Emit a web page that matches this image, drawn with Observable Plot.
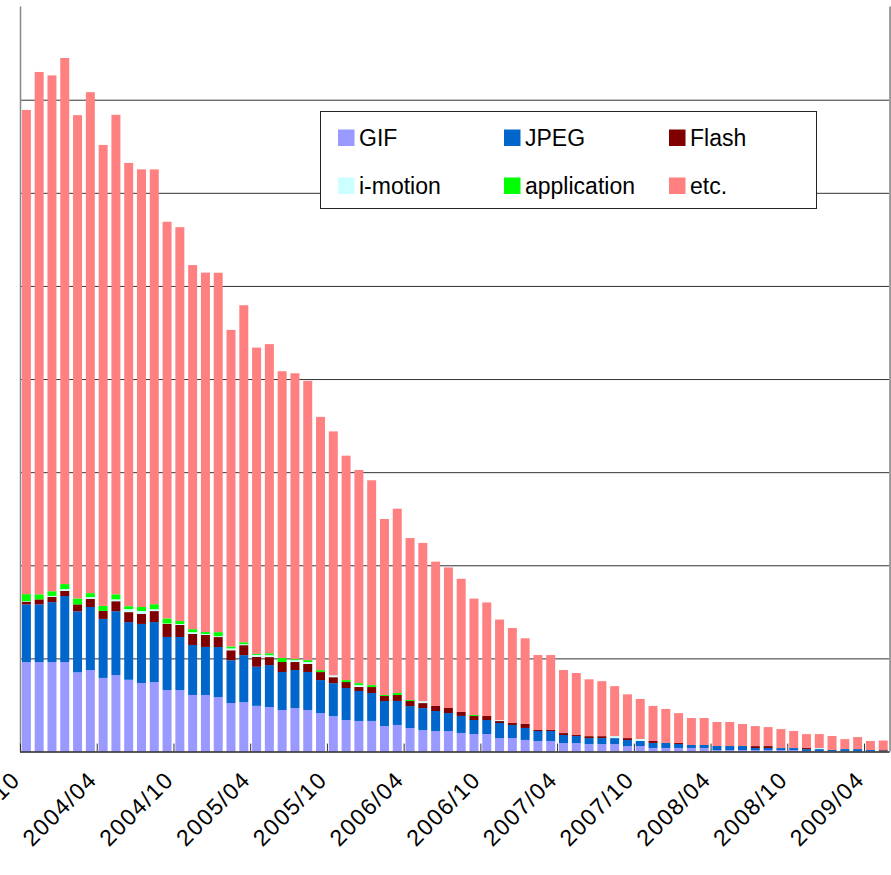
<!DOCTYPE html>
<html>
<head>
<meta charset="utf-8">
<script src="https://cdn.jsdelivr.net/npm/d3@7"></script>
<script src="https://cdn.jsdelivr.net/npm/@observablehq/plot@0.6"></script>
<style>
  html, body { margin: 0; padding: 0; background: #fff; }
  #chart svg { display: block; overflow: visible; }
</style>
</head>
<body>
<div id="chart"></div>
<script>
// ---- categories (monthly, 2003/10 .. 2009/05) ----
const months = [
  "2003/10","2003/11","2003/12",
  "2004/01","2004/02","2004/03","2004/04","2004/05","2004/06","2004/07","2004/08","2004/09","2004/10","2004/11","2004/12",
  "2005/01","2005/02","2005/03","2005/04","2005/05","2005/06","2005/07","2005/08","2005/09","2005/10","2005/11","2005/12",
  "2006/01","2006/02","2006/03","2006/04","2006/05","2006/06","2006/07","2006/08","2006/09","2006/10","2006/11","2006/12",
  "2007/01","2007/02","2007/03","2007/04","2007/05","2007/06","2007/07","2007/08","2007/09","2007/10","2007/11","2007/12",
  "2008/01","2008/02","2008/03","2008/04","2008/05","2008/06","2008/07","2008/08","2008/09","2008/10","2008/11","2008/12",
  "2009/01","2009/02","2009/03","2009/04","2009/05"
];
const tickLabels = ["2003/10","2004/04","2004/10","2005/04","2005/10","2006/04","2006/10","2007/04","2007/10","2008/04","2008/10","2009/04"];
const yGrid = [100, 200, 300, 400, 500, 600, 700];

// ---- series (stack order bottom -> top) ----
const seriesNames = ["GIF", "JPEG", "Flash", "i-motion", "application", "etc."];
const seriesColors = ["#9999FF", "#0066CC", "#800000", "#CCFFFF", "#00FF00", "#FF8080"];

const gif = [96,96,96,96,85,87.5,79,82,77,73.6,74.6,66,66,60.7,60.7,58.5,52,53,49,47.8,
  44.6,46.7,44.6,41.3,38,33.8,32.8,32.8,27.4,28.5,25.2,23,22,22,19.9,18.8,18.8,14.5,14.5,12.4,
  11.3,11.3,9.1,9.1,8,8,8,5.9,5.9,3.8,3.8,3.8,3.8,3.8,1.6,1.6,1.6,1.6,1.6,1.6,
  1.6,0.5,0.5,0.5,0.5,0.5,0.5,0.5];
const jpeg = [62,62,64.4,71,65.5,67.7,63.4,68.7,62,63.4,64.4,57,57,53.7,51.6,53.7,46,50.5,42,45,
  40.8,40.8,40.8,35.4,35.4,34.4,32.2,30,26.8,25.8,23.6,23.6,21.5,19.3,18.3,15,15,16.1,14,12.9,
  10.7,10.7,8.6,7.5,6.4,6.4,6.4,6.4,5.4,5.4,5.4,4.3,3.2,3.2,4.3,4.3,4.3,2.1,2.1,2.1,
  2.1,2.1,2.1,1.1,2.1,2.1,1.1,0.5];
const flash = [3,5.4,5.7,5.4,7.5,8.6,8.6,10.7,10.7,10.7,11.8,14,12.9,11.8,12.9,10.7,10.7,10.7,10.7,8.6,
  10.7,8.6,8.6,8.6,6.4,6.4,4.3,6.4,5.4,6.4,5.4,5.4,5.4,5.4,4.3,4.3,4.3,2.1,2.1,4.3,
  1.1,1.1,2.1,1.1,2.1,2.1,0,2.1,0,2.1,0,1.1,0,0,0,0,0,2.1,2.1,0,
  0,1.1,0,0,0,0,0,1.1];
const imotion = [0.5,0,1,2,0,2,0,2,3.2,3.2,2,0.5,1,2,1,1,2,1,2,2,
  0,2,2,0,2,0,2,0,0,0,0,2,0,0,0,0,0,1,0,0,
  0,0,0,0,0,0,2.1,0,2.1,0,0,0,0,0,0,0,0,0,0,0,
  0,0,1.1,0,0,0,0,0];
const application = [7.5,5.4,5,5.4,6.4,4.3,5.4,5.4,3.2,4.3,5.4,5.4,3.2,3.2,2.1,4.3,2.1,2.1,1.1,2.1,
  4.3,1.1,2.1,2.1,0,2.1,2.1,2.1,1.1,2.1,1.1,0,0,0,0,1.1,0,0,0,0,
  0,0,0,0,0,0,0,0,0,0,0,0,0,0,0,0,0,0,0,0,
  0,0,0,0,0,0,0,0];
const etc = [520,561,554,565,519,538,495,515,476,470,467,426,423,391,386,386,340,362,329,332,
  308,307,300,272,262,241,229,220,189,198,174,170,155,151,143,125,122,108,102,92,
  80.5,80.5,67.7,66.6,61,59,53.7,47,43,37.6,36.5,32,29,29,25.8,25.8,23.6,21.5,20.4,20.4,
  18.3,15,15,15,10.7,12.9,9.7,9.7];

const seriesValues = [gif, jpeg, flash, imotion, application, etc];

// long table for the library
const rows = [];
months.forEach((m, i) => {
  seriesValues.forEach((arr, s) => rows.push({i, month: m, series: seriesNames[s], value: arr[i]}));
});
const tickIdx = tickLabels.map(l => months.indexOf(l));

const FONT = "'Liberation Sans', Arial, sans-serif";

const chart = Plot.plot({
  width: 891,
  height: 875,
  marginLeft: 20,
  marginRight: 1.4,
  marginTop: 6.6,
  marginBottom: 123.5,
  x: {type: "linear", domain: [0, months.length], axis: null},
  y: {domain: [0, 800], axis: null},
  color: {domain: seriesNames, range: seriesColors},
  style: {fontFamily: FONT, background: "#fff", overflow: "visible"},
  marks: [
    Plot.ruleY(yGrid, {stroke: "#333", strokeWidth: 1}),
    Plot.rectY(rows, {x1: "i", x2: d => d.i + 1, y: "value", fill: "series", insetLeft: 1.9, insetRight: 1.9}),
    Plot.ruleX([0], {stroke: "#888", strokeWidth: 1.5}),
    Plot.ruleX([months.length], {stroke: "#999", strokeWidth: 2}),
    Plot.ruleY([0], {stroke: "#222", strokeWidth: 1.5}),
    Plot.ruleX(tickIdx, {y1: 0, y2: 8.5, stroke: "#333"}),
    Plot.text(tickIdx, {
      x: d => d, y: 0, text: (d, i) => tickLabels[i],
      rotate: -45, textAnchor: "end", lineAnchor: "middle",
      fontSize: 23, fill: "#000", dx: -4, dy: 24
    })
  ]
});

// letter spacing for the rotated date labels (wider, as in the reference)
d3.select(chart).selectAll("text").attr("letter-spacing", "1.5px");

// legend drawn inside the plot area (as in the reference)
const svg = d3.select(chart);
const lg = svg.append("g")
  .attr("font-family", FONT).attr("font-size", 23).attr("text-anchor", "start");
lg.append("rect").attr("x", 320.5).attr("y", 111.5).attr("width", 496).attr("height", 97)
  .attr("fill", "#fff").attr("stroke", "#222").attr("stroke-width", 1);
const colX = [338, 504, 669];
const rowY = [129.5, 177.5];
seriesNames.forEach((name, k) => {
  const cx = colX[k % 3], cy = rowY[Math.floor(k / 3)];
  lg.append("rect").attr("x", cx).attr("y", cy).attr("width", 16.5).attr("height", 16.5).attr("fill", seriesColors[k]);
  lg.append("text").attr("x", cx + 21).attr("y", cy + 16.5).attr("text-anchor", "start").attr("fill", "#000").text(name);
});

document.getElementById("chart").appendChild(chart);
</script>
</body>
</html>
